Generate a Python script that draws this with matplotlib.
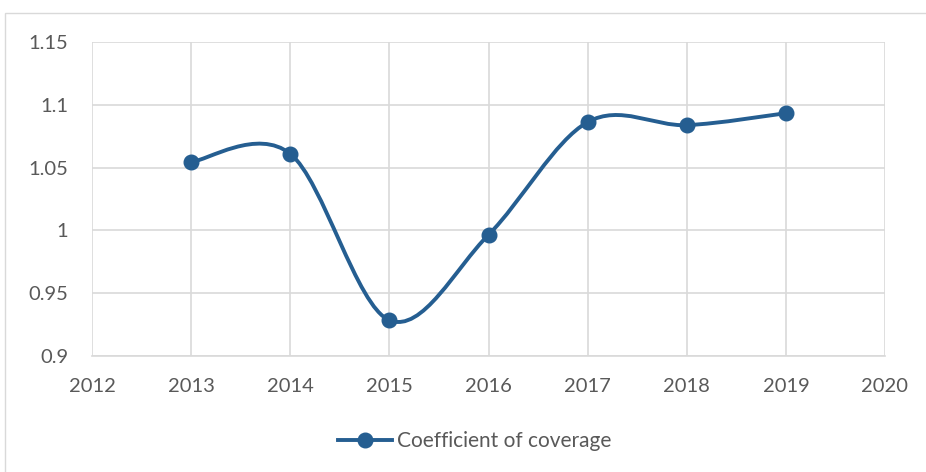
import numpy as np
import matplotlib
matplotlib.use('Agg')
from matplotlib import pyplot as plt
from matplotlib.path import Path
from matplotlib.patches import PathPatch, Rectangle
from matplotlib.lines import Line2D

years = [2013, 2014, 2015, 2016, 2017, 2018, 2019]
coverage = [1.0545, 1.061, 0.9285, 0.9965, 1.0862, 1.0838, 1.0933]
series_name = 'Coefficient of coverage'

blue = '#255E91'
grid_gray = '#D9D9D9'
text_gray = '#595959'

plt.rcParams['font.family'] = ['Lato', 'DejaVu Sans']

fig = plt.figure(figsize=(9.26, 4.72), dpi=100)
fig.patches.append(Rectangle((5 / 926, -0.1), 1.0, 1 - 13 / 472 + 0.1,
                             transform=fig.transFigure, fill=False,
                             edgecolor=grid_gray, linewidth=1))
ax = fig.add_axes([92 / 926, 1 - 356 / 472, (885 - 92) / 926, (356 - 42) / 472])


# Excel-like smoothed line: Catmull-Rom segments as cubic Bezier
def smooth_path(x, y):
    pts = np.column_stack([x, y]).astype(float)
    verts = [pts[0]]
    codes = [Path.MOVETO]
    n = len(pts)
    for i in range(n - 1):
        p0 = pts[i - 1] if i > 0 else pts[i]
        p1 = pts[i]
        p2 = pts[i + 1]
        p3 = pts[i + 2] if i + 2 < n else pts[i + 1]
        c1 = p1 + (p2 - p0) / 6
        c2 = p2 - (p3 - p1) / 6
        verts += [c1, c2, p2]
        codes += [Path.CURVE4] * 3
    return Path(verts, codes)


ax.add_patch(PathPatch(smooth_path(years, coverage), fill=False,
                       edgecolor=blue, linewidth=2.8, capstyle='round', zorder=3))
ax.plot(years, coverage, linestyle='none', marker='o', markersize=10.5,
        color=blue, zorder=4)

ax.set_xlim(2012, 2020)
ax.set_ylim(0.9, 1.15)
ax.set_xticks(range(2012, 2021))
ax.set_yticks([0.9, 0.95, 1.0, 1.05, 1.1, 1.15])
ax.set_yticklabels(['0.9', '0.95', '1', '1.05', '1.1', '1.15'])
ax.grid(True, color=grid_gray, linewidth=1.2)
ax.set_axisbelow(True)
for s in ['top', 'right', 'left']:
    ax.spines[s].set_visible(False)
ax.spines['bottom'].set_color(grid_gray)
ax.spines['bottom'].set_linewidth(1.2)
ax.tick_params(length=0, labelsize=14.5, labelcolor=text_gray)
ax.tick_params(axis='y', pad=17)
ax.tick_params(axis='x', pad=16)

handle = Line2D([], [], color=blue, linewidth=2.8, marker='o', markersize=10.5)
fig.legend([handle], [series_name], loc='center', bbox_to_anchor=(475 / 926, 1 - 441 / 472),
           frameon=False, fontsize=15, labelcolor=text_gray, handlelength=2.6,
           handletextpad=0.25)

fig.savefig('out.png', dpi=100)
